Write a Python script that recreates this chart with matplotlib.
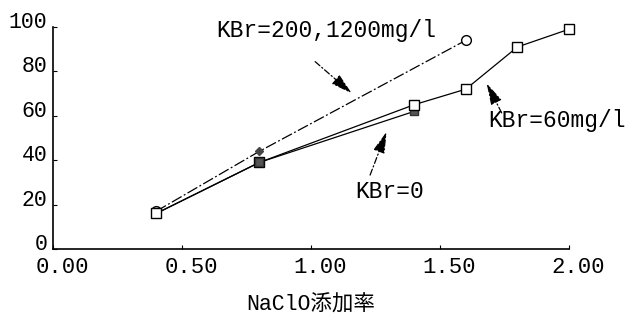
import matplotlib
matplotlib.use("Agg")
import matplotlib.pyplot as plt
from matplotlib.transforms import ScaledTranslation

# ---- data ----
x_200 = [0.4, 0.8, 1.6]
y_200 = [17, 44, 94]
x_60 = [0.4, 0.8, 1.4, 1.6, 1.8, 2.0]
y_60 = [16, 39, 65, 72, 91, 99]
x_0 = [0.4, 0.8, 1.4]
y_0 = [16, 39, 62]
xticks = [0.0, 0.5, 1.0, 1.5, 2.0]
xticklabels = ["0.00", "0.50", "1.00", "1.50", "2.00"]
yticks = [0, 20, 40, 60, 80, 100]
yticklabels = ["0", "20", "40", "60", "80", "100"]
xlabel = "NaClO添加率"
label_200 = "KBr=200,1200mg/l"
label_60 = "KBr=60mg/l"
label_0 = "KBr=0"

MONO = ["Liberation Mono", "Noto Sans CJK JP"]

fig = plt.figure(figsize=(6.33, 3.29), dpi=100)
ax = fig.add_axes([53/633, 1-249/329, (569-53)/633, (249-27)/329])

# lines
ax.plot(x_200, y_200, color="black", lw=0.9, dashes=(9, 2, 1.5, 2), zorder=2)
ax.plot(x_60, y_60, color="black", lw=0.9, zorder=2)
ax.plot(x_0, y_0, color="black", lw=0.9, zorder=2)

# markers
ax.plot(x_200, y_200, ls="none", marker="o", ms=7, mfc="white", mec="black",
        mew=1.0, markevery=[0, 2], zorder=3, clip_on=False)
ax.plot(x_200, y_200, ls="none", marker="D", ms=4.5, mfc="#444444", mec="#444444",
        markevery=[1], zorder=3)
ax.plot(x_60, y_60, ls="none", marker="s", ms=7, mfc="white", mec="black",
        mew=1.0, zorder=4, clip_on=False)
ax.plot(x_0, y_0, ls="none", marker="s", ms=6, mfc="#555555", mec="#333333",
        markevery=[1], zorder=5)
ax.plot(x_0, y_0, ls="none", marker="s", ms=6, mfc="#555555", mec="#333333",
        markevery=[2], zorder=3)

# annotations
def arrow(tail, tip):
    ax.annotate("", xy=tip, xytext=tail,
                arrowprops=dict(arrowstyle="-|>,head_length=1.1,head_width=0.3",
                                color="black", lw=0.9, linestyle=(0, (5, 2, 1, 2)),
                                shrinkA=0, shrinkB=0, facecolor="#333333",
                                mutation_scale=12),
                zorder=6, annotation_clip=False)

ax.text(1.058, 98.2, label_200, family=MONO, fontsize=16.5, ha="center", va="center",
        clip_on=False)
arrow((1.016, 84.4), (1.158, 70.1))
ax.text(1.306, 26.1, label_0, family=MONO, fontsize=16.5, ha="center", va="center")
arrow((1.229, 33.3), (1.293, 52.8))
ax.text(1.953, 58.1, label_60, family=MONO, fontsize=16.5, ha="center", va="center",
        clip_on=False)
arrow((1.739, 61.3), (1.681, 74.6))

# axes styling
ax.set_xlim(0, 2)
ax.set_ylim(0, 100)
for s in ["top", "right"]:
    ax.spines[s].set_visible(False)
for s in ["left", "bottom"]:
    ax.spines[s].set_linewidth(1.2)
ax.set_xticks(xticks)
ax.set_xticklabels(xticklabels, family=MONO, fontsize=16)
ax.set_yticks(yticks)
ax.set_yticklabels(yticklabels, family=MONO, fontsize=15.5)
ax.tick_params(direction="in", length=3, width=0.8, pad=6)
ax.tick_params(axis="y", pad=4)

for lab in ax.get_xticklabels():
    lab.set_transform(lab.get_transform() + ScaledTranslation(9/100, 0, fig.dpi_scale_trans))
for lab in ax.get_yticklabels():
    lab.set_transform(lab.get_transform() + ScaledTranslation(0, 7/100, fig.dpi_scale_trans))

ax.set_xlabel(xlabel, family=MONO, fontsize=15.5, labelpad=12)

fig.savefig("out.png", dpi=100)
